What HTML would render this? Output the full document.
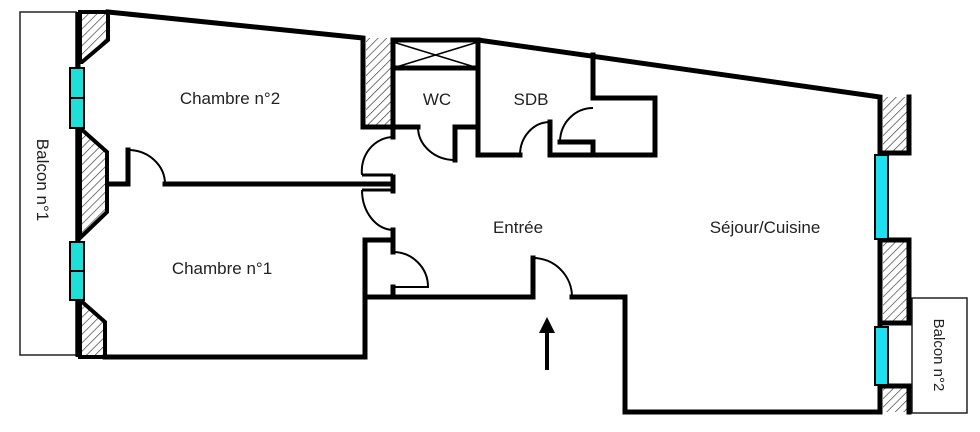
<!DOCTYPE html>
<html><head><meta charset="utf-8"><style>
html,body{margin:0;padding:0;background:#fff;}
svg{display:block;}
text{font-family:"Liberation Sans",sans-serif;fill:#222;font-size:17px;}
</style></head><body>
<svg width="980" height="432" viewBox="0 0 980 432" xmlns="http://www.w3.org/2000/svg">
<defs>
<pattern id="h" patternUnits="userSpaceOnUse" width="6" height="6" patternTransform="rotate(45)">
<rect width="6" height="6" fill="#fff"/><line x1="0" y1="0" x2="0" y2="6" stroke="#333" stroke-width="1.3"/>
</pattern>
</defs>
<rect x="20" y="12" width="56" height="343" fill="#fff" stroke="#222" stroke-width="1.5"/>
<text transform="translate(37,180) rotate(90)" text-anchor="middle">Balcon n°1</text>
<g fill="url(#h)" stroke="#000" stroke-width="4" stroke-linejoin="miter">
<polygon points="80,12 108,12 108,40 82,62 80,62"/>
<polygon points="80,128 107,152 107,212 80,238"/>
<polygon points="80,300 105,322 105,357 80,357"/>
</g>
<line x1="78" y1="12" x2="78" y2="357" stroke="#000" stroke-width="5"/>
<g fill="#1fe0d8" stroke="#000" stroke-width="2">
<rect x="70" y="68" width="14" height="60"/><line x1="70" y1="98" x2="84" y2="98"/>
<rect x="70" y="242" width="14" height="58"/><line x1="70" y1="271" x2="84" y2="271"/>
</g>
<rect x="366" y="38" width="26" height="89" fill="url(#h)"/>
<g fill="url(#h)">
<rect x="883" y="97" width="26" height="56"/>
<rect x="883" y="240" width="26" height="83"/>
<rect x="883" y="386" width="26" height="26"/>
</g>
<rect x="912" y="298" width="55" height="115" fill="#fff" stroke="#222" stroke-width="1.5"/>
<text transform="translate(934,355) rotate(90)" text-anchor="middle" style="font-size:15px">Balcon n°2</text>
<g fill="none" stroke="#000" stroke-width="5" stroke-linecap="square" stroke-linejoin="miter">
<polyline points="108,12 363,38 363,127 393,127"/>
<polyline points="393,40 478,40 880,97 880,412 625,412 625,297 572,297"/>
<polyline points="533,297 365,297"/>
<polyline points="393,240 365,240 365,357 105,357"/>
<polyline points="108,184 128,184 128,150"/>
<polyline points="165,184 393,184"/>
<line x1="393" y1="177" x2="393" y2="191"/>
<line x1="393" y1="40" x2="393" y2="137"/>
<line x1="393" y1="230" x2="393" y2="252"/>
<line x1="393" y1="287" x2="393" y2="297"/>
<line x1="393" y1="68" x2="478" y2="68"/>
<polyline points="393,127 418,127"/>
<polyline points="455,160 455,127 478,127"/>
<line x1="478" y1="40" x2="478" y2="155"/>
<polyline points="478,155 520,155"/>
<polyline points="550,122 550,155 655,155 655,98 593,98 593,55"/>
<polyline points="560,142 593,142 593,155"/>
<line x1="533" y1="297" x2="533" y2="258"/>
<polyline points="880,153 909,153 909,97"/>
<polyline points="880,240 909,240 909,323 880,323"/>
<polyline points="880,386 909,386 909,412"/>
</g>
<g stroke="#000" stroke-width="1.5">
<line x1="393" y1="42" x2="478" y2="68"/><line x1="393" y1="68" x2="478" y2="42"/>
</g>
<g fill="none" stroke="#000" stroke-width="2">
<path d="M128,150 A37,34 0 0 1 165,184"/>
<path d="M393,137 A32,34 0 0 0 362,175"/>
<path d="M362,190 A32,40 0 0 0 393,230"/>
<path d="M393,252 A35,35 0 0 1 428,287 L393,287"/>
<path d="M418,127 A37,33 0 0 0 455,160"/>
<path d="M520,155 A30,33 0 0 1 550,122"/>
<path d="M593,108 A33,34 0 0 0 560,142"/>
<path d="M533,258 A39,39 0 0 1 572,297"/>
</g>
<line x1="362" y1="175" x2="393" y2="175" stroke="#000" stroke-width="3"/>
<line x1="362" y1="190" x2="393" y2="190" stroke="#000" stroke-width="3"/>
<g fill="#1fe0f0" stroke="#000" stroke-width="2">
<rect x="875" y="155" width="13" height="84"/>
<rect x="875" y="327" width="13" height="58"/>
</g>
<line x1="547" y1="370" x2="547" y2="330" stroke="#000" stroke-width="4"/>
<polygon points="547,317 539,333 555,333" fill="#000"/>
<text x="230" y="104" text-anchor="middle">Chambre n°2</text>
<text x="437" y="105" text-anchor="middle">WC</text>
<text x="531" y="105" text-anchor="middle">SDB</text>
<text x="518" y="233" text-anchor="middle">Entrée</text>
<text x="765" y="233" text-anchor="middle">Séjour/Cuisine</text>
<text x="222" y="274" text-anchor="middle">Chambre n°1</text>
</svg>
</body></html>
